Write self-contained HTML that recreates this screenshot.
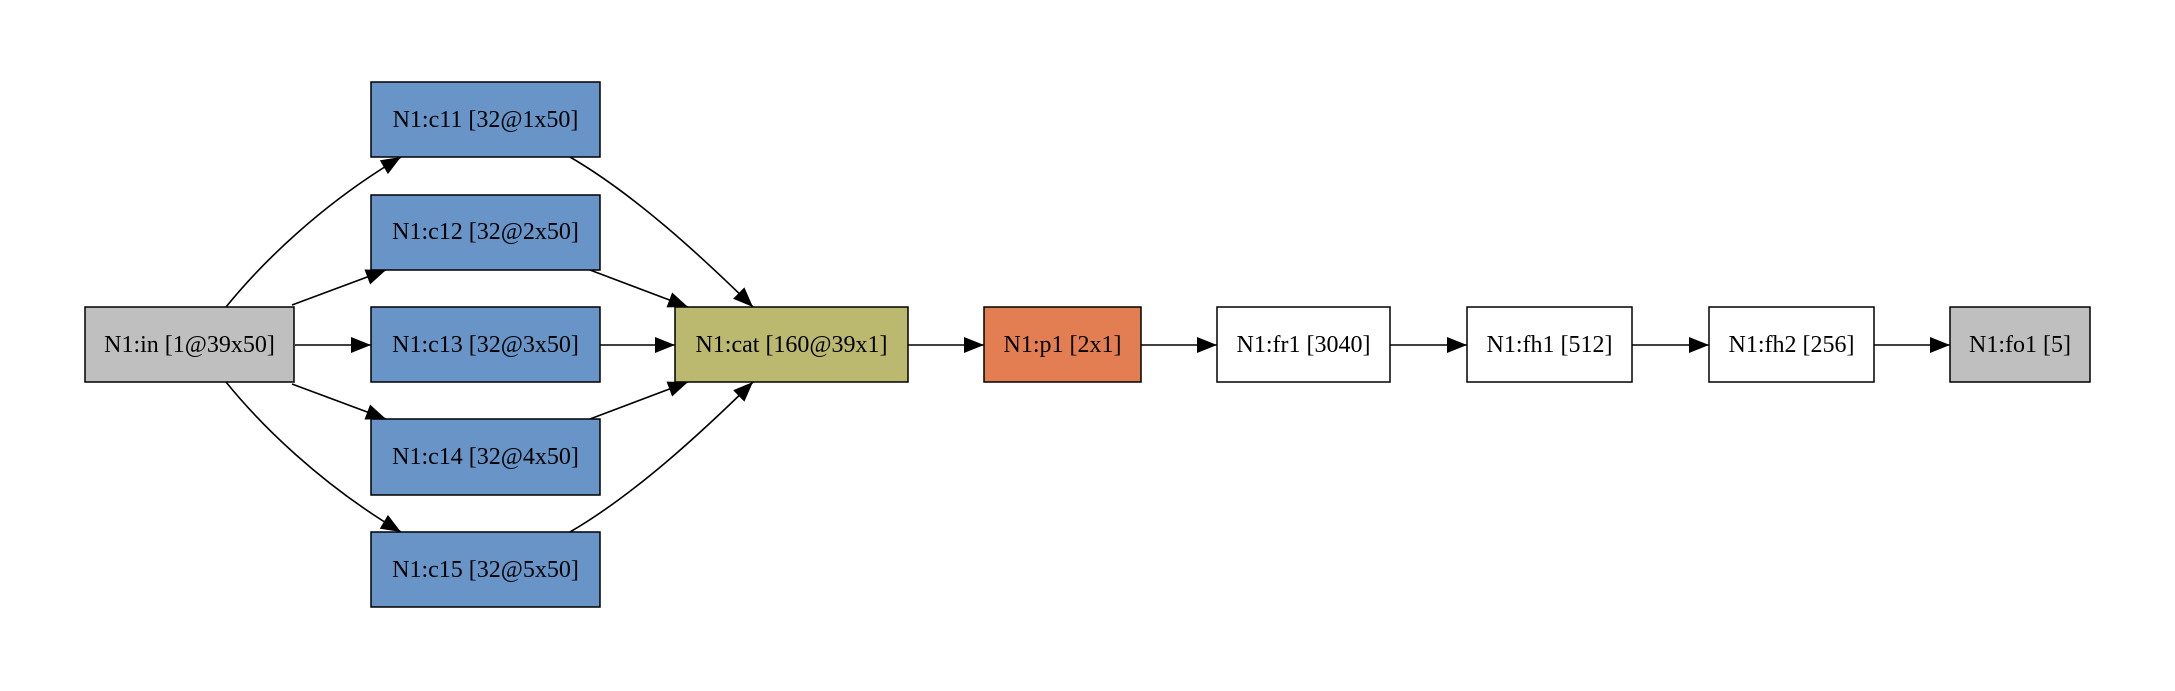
<!DOCTYPE html>
<html><head><meta charset="utf-8"><style>
html,body{margin:0;padding:0;background:#fff;}
svg{display:block;}
text{font-family:"Liberation Serif",serif;font-size:24px;text-anchor:middle;dominant-baseline:central;fill:#000;}
rect{stroke:#000;stroke-width:1.5;}
path{fill:none;stroke:#000;stroke-width:1.6;}
</style></head><body>
<svg width="2175" height="691" viewBox="0 0 2175 691" xmlns="http://www.w3.org/2000/svg">
<defs>
<marker id="a" markerUnits="userSpaceOnUse" markerWidth="24" markerHeight="20" refX="20" refY="8" orient="auto">
<polygon points="0,0 20,8 0,16" fill="#000" stroke="none"/>
</marker>
</defs>
<path d="M226,307 C260,265 320,205 401,157" marker-end="url(#a)"/>
<path d="M292,305 L386,270" marker-end="url(#a)"/>
<path d="M295,345 L371,345" marker-end="url(#a)"/>
<path d="M292,384 L386,419" marker-end="url(#a)"/>
<path d="M226,382 C260,424 320,484 401,532" marker-end="url(#a)"/>
<path d="M570,157 C635,195 700,255 753,307" marker-end="url(#a)"/>
<path d="M590,270 L688,307" marker-end="url(#a)"/>
<path d="M600,345 L675,345" marker-end="url(#a)"/>
<path d="M590,419 L688,382" marker-end="url(#a)"/>
<path d="M570,532 C635,494 700,434 753,382" marker-end="url(#a)"/>
<path d="M908,345 L984,345" marker-end="url(#a)"/>
<path d="M1141,345 L1217,345" marker-end="url(#a)"/>
<path d="M1390,345 L1467,345" marker-end="url(#a)"/>
<path d="M1632,345 L1709,345" marker-end="url(#a)"/>
<path d="M1874,345 L1950,345" marker-end="url(#a)"/>
<rect x="85" y="307" width="209" height="75" fill="#bfbfbf"/><text x="189.5" y="345">N1:in [1@39x50]</text>
<rect x="371" y="82" width="229" height="75" fill="#6894c8"/><text x="485.5" y="120">N1:c11 [32@1x50]</text>
<rect x="371" y="195" width="229" height="75" fill="#6894c8"/><text x="485.5" y="232">N1:c12 [32@2x50]</text>
<rect x="371" y="307" width="229" height="75" fill="#6894c8"/><text x="485.5" y="345">N1:c13 [32@3x50]</text>
<rect x="371" y="419" width="229" height="76" fill="#6894c8"/><text x="485.5" y="457">N1:c14 [32@4x50]</text>
<rect x="371" y="532" width="229" height="75" fill="#6894c8"/><text x="485.5" y="570">N1:c15 [32@5x50]</text>
<rect x="675" y="307" width="233" height="75" fill="#bbb86f"/><text x="791.5" y="345">N1:cat [160@39x1]</text>
<rect x="984" y="307" width="157" height="75" fill="#e37e52"/><text x="1062.5" y="345">N1:p1 [2x1]</text>
<rect x="1217" y="307" width="173" height="75" fill="#fff"/><text x="1303.5" y="345">N1:fr1 [3040]</text>
<rect x="1467" y="307" width="165" height="75" fill="#fff"/><text x="1549.5" y="345">N1:fh1 [512]</text>
<rect x="1709" y="307" width="165" height="75" fill="#fff"/><text x="1791.5" y="345">N1:fh2 [256]</text>
<rect x="1950" y="307" width="140" height="75" fill="#bfbfbf"/><text x="2020" y="345">N1:fo1 [5]</text>
</svg>
</body></html>
